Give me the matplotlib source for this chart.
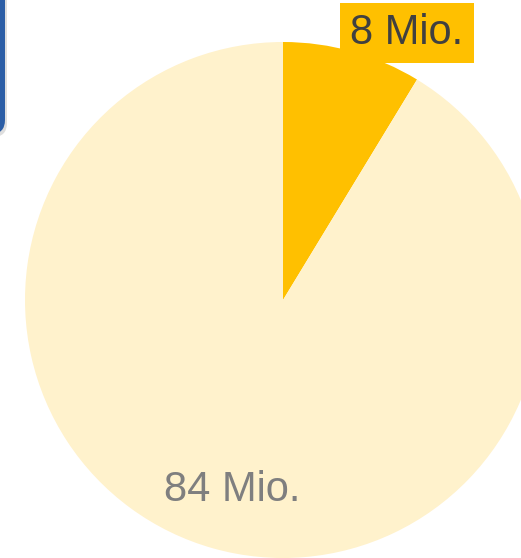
import matplotlib.pyplot as plt
from matplotlib.patches import FancyBboxPatch

# Slice values (millions)
labels = ['8 Mio.', '84 Mio.']
values = [8, 84]
colors = ['#FFC000', '#FFF2CC']

W, H = 521, 558
fig = plt.figure(figsize=(W / 100, H / 100), dpi=100)
ax = fig.add_axes([0, 0, 1, 1])

# pie, clockwise from 12 o'clock
ax.pie(values, colors=colors, startangle=90, counterclock=False,
       center=(283, H - 300), radius=258,
       wedgeprops=dict(linewidth=0), frame=True)
ax.set_xlim(0, W)
ax.set_ylim(0, H)
ax.set_aspect('equal')
ax.axis('off')

# partly visible blue panel at top-left, with soft shadow
shadow = FancyBboxPatch((-40, H - 137), 47, 160, boxstyle='round,pad=0,rounding_size=14',
                        facecolor='#C8C8C8', edgecolor='none', alpha=0.6, zorder=4)
ax.add_patch(shadow)
panel = FancyBboxPatch((-40, H - 134), 45, 160, boxstyle='round,pad=0,rounding_size=14',
                       facecolor='#2B5EA6', edgecolor='none', zorder=5)
ax.add_patch(panel)

# labels
ax.text(407, H - 33, labels[0], fontsize=30, family='Liberation Sans', color='#404040',
        ha='center', va='center', zorder=6,
        bbox=dict(boxstyle='square,pad=0.24', facecolor='#FFC000', edgecolor='none'))
ax.text(232, H - 490, labels[1], fontsize=30, family='Liberation Sans', color='#7F7F7F',
        ha='center', va='center', zorder=6)

fig.savefig('out.png', dpi=100)
